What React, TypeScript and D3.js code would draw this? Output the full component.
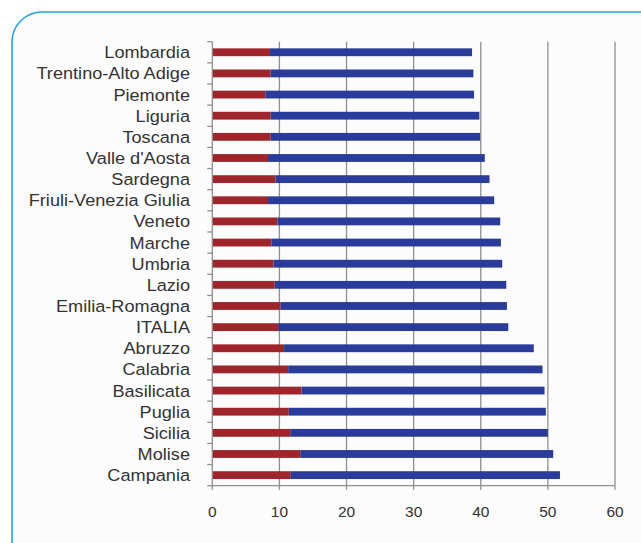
import React from "react";
import * as d3 from "d3";

// Regions, top to bottom
const regions = [
  "Lombardia",
  "Trentino-Alto Adige",
  "Piemonte",
  "Liguria",
  "Toscana",
  "Valle d'Aosta",
  "Sardegna",
  "Friuli-Venezia Giulia",
  "Veneto",
  "Marche",
  "Umbria",
  "Lazio",
  "Emilia-Romagna",
  "ITALIA",
  "Abruzzo",
  "Calabria",
  "Basilicata",
  "Puglia",
  "Sicilia",
  "Molise",
  "Campania",
];

// First (red) segment
const redValues = [
  8.6, 8.7, 7.9, 8.7, 8.7, 8.3, 9.4, 8.3, 9.7, 8.8, 9.1, 9.3, 10.2, 9.8, 10.7,
  11.3, 13.3, 11.4, 11.6, 13.1, 11.7,
];

// Second (blue) segment, stacked after the red one
const blueValues = [
  30.1, 30.2, 31.1, 31.1, 31.2, 32.3, 31.9, 33.7, 33.2, 34.2, 34.1, 34.5, 33.7,
  34.3, 37.2, 37.9, 36.2, 38.3, 38.4, 37.7, 40.1,
];

const xTicks = [0, 10, 20, 30, 40, 50, 60];

const W = 641;
const H = 543;
const left = 212.3;
const right = 615;
const top = 41.7;
const bottom = 485.7;
const labelEnd = 190;

const RED = "#9e262a";
const BLUE = "#293c9c";
const GRID = "#8f8f8f";
const TEXT = "#333333";
const FONT = "'Liberation Sans', Arial, Helvetica, sans-serif";

export default function App() {
  const x = d3.scaleLinear().domain([0, 60]).range([left, right]);
  const y = d3
    .scaleBand<string>()
    .domain(regions)
    .range([top, bottom])
    .paddingInner(0.63)
    .paddingOuter(0.315);
  const step = y.step();
  const bh = y.bandwidth();

  const rows = regions.map((name, i) => ({
    name,
    red: redValues[i],
    blue: blueValues[i],
  }));

  const boundaries = d3.range(regions.length + 1).map((i) => top + i * step);

  return (
    <svg
      width={W}
      height={H}
      style={{ position: "absolute", left: 0, top: 0, background: "#ffffff" }}
    >
      {/* framed panel */}
      <rect
        x={12}
        y={12}
        width={W + 40}
        height={H + 40}
        rx={30}
        ry={30}
        fill="#fcfcfc"
        stroke="#1aa3e8"
        strokeWidth={1.6}
      />

      {/* vertical gridlines */}
      {xTicks.slice(1).map((t) => (
        <line
          key={"g" + t}
          x1={x(t)}
          x2={x(t)}
          y1={top}
          y2={bottom}
          stroke={GRID}
          strokeWidth={1.3}
        />
      ))}

      {/* bars */}
      {rows.map((r) => {
        const yy = y(r.name)!;
        return (
          <g key={r.name}>
            <rect
              x={x(0)}
              y={yy}
              width={x(r.red) - x(0)}
              height={bh}
              fill={RED}
            />
            <rect
              x={x(r.red)}
              y={yy}
              width={x(r.red + r.blue) - x(r.red)}
              height={bh}
              fill={BLUE}
            />
          </g>
        );
      })}

      {/* category axis */}
      <line x1={left} x2={left} y1={top} y2={bottom} stroke={GRID} strokeWidth={1.3} />
      {boundaries.map((b, i) => (
        <line
          key={"yt" + i}
          x1={left - 5}
          x2={left}
          y1={b}
          y2={b}
          stroke={GRID}
          strokeWidth={1.3}
        />
      ))}
      {rows.map((r) => (
        <text
          key={"l" + r.name}
          transform={`translate(${labelEnd},${y(r.name)! + bh / 2}) scale(1.1,1)`}
          dy="0.36em"
          textAnchor="end"
          fontFamily={FONT}
          fontSize={16.5}
          fill={TEXT}
        >
          {r.name}
        </text>
      ))}

      {/* value axis */}
      <line x1={left} x2={right} y1={bottom} y2={bottom} stroke={GRID} strokeWidth={1.3} />
      {xTicks.map((t) => (
        <g key={"xt" + t}>
          <line
            x1={x(t)}
            x2={x(t)}
            y1={bottom}
            y2={bottom + 4}
            stroke={GRID}
            strokeWidth={1.3}
          />
          <text
            x={x(t)}
            y={bottom + 26}
            dy="0.36em"
            textAnchor="middle"
            fontFamily={FONT}
            fontSize={15.5}
            fill={TEXT}
          >
            {t}
          </text>
        </g>
      ))}
    </svg>
  );
}
